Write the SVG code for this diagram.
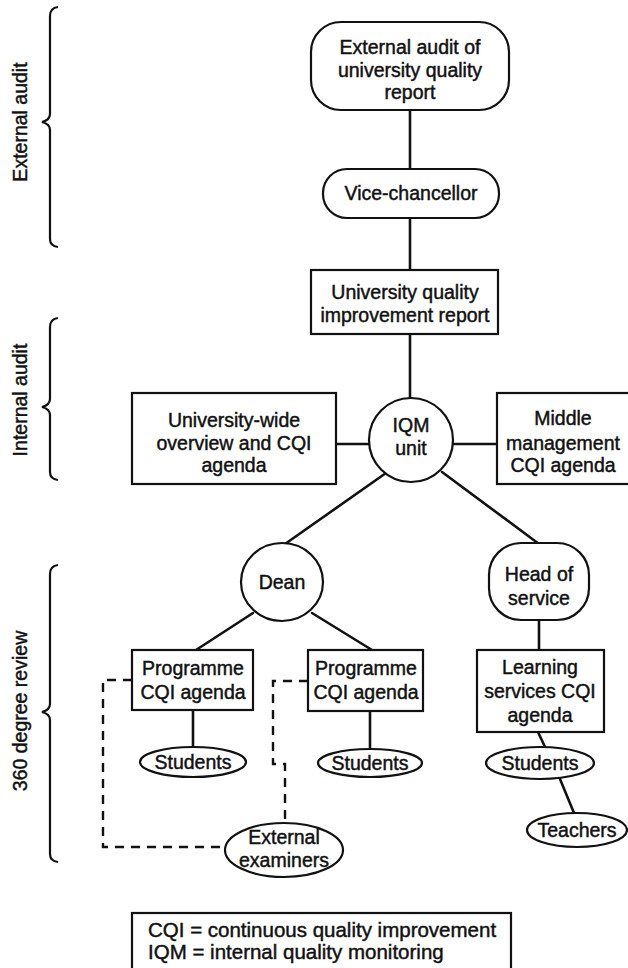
<svg xmlns="http://www.w3.org/2000/svg" width="628" height="968" viewBox="0 0 628 968">
<style>
  .bg { fill: #ffffff; }
  .node { fill: #ffffff; stroke: #111111; stroke-width: 2.2; }
  .edge { stroke: #111111; stroke-width: 2.6; fill: none; stroke-linecap: round; }
  .dash { stroke: #111111; stroke-width: 2.4; fill: none; stroke-dasharray: 9 7; }
  .brace { stroke: #111111; stroke-width: 2.2; fill: none; }
  text { font-family: "Liberation Sans", Arial, Helvetica, sans-serif; font-size: 19.5px; fill: #111111; stroke: #111111; stroke-width: 0.45; }
  .c { text-anchor: middle; }
  .lg { font-size: 20.5px; }
</style>
<rect class="bg" x="0" y="0" width="628" height="968"/>

<g id="braces">
  <path class="brace" d="M58,7 Q50,8 50,16 V114 Q50,120 42,122 Q50,124 50,130 V239 Q50,246 58,247"/>
  <text class="c" transform="translate(27,122) rotate(-90)">External audit</text>
  <path class="brace" d="M58,318 Q50,319 50,327 V399 Q50,405 42,407 Q50,409 50,415 V472 Q50,479 58,480"/>
  <text class="c" transform="translate(27,400) rotate(-90)">Internal audit</text>
  <path class="brace" d="M58,565 Q50,566 50,574 V704 Q50,710 42,712 Q50,714 50,720 V854 Q50,861 58,862"/>
  <text class="c" transform="translate(27,711) rotate(-90)">360 degree review</text>
</g>

<g id="connectors">
  <line class="edge" x1="410" y1="110" x2="410" y2="169"/>
  <line class="edge" x1="410" y1="218" x2="410" y2="270"/>
  <line class="edge" x1="410" y1="334" x2="410" y2="398"/>
  <line class="edge" x1="336" y1="444" x2="370" y2="444"/>
  <line class="edge" x1="453" y1="444" x2="497" y2="444"/>
  <line class="edge" x1="386" y1="473" x2="285" y2="544"/>
  <line class="edge" x1="442" y1="472" x2="539" y2="544"/>
  <line class="edge" x1="253" y1="613" x2="196" y2="650"/>
  <line class="edge" x1="312" y1="613" x2="372" y2="650"/>
  <line class="edge" x1="539" y1="620" x2="539" y2="650"/>
  <line class="edge" x1="193" y1="710" x2="193" y2="747"/>
  <line class="edge" x1="370" y1="711" x2="370" y2="749"/>
  <line class="edge" x1="538" y1="732" x2="545" y2="747"/>
  <line class="edge" x1="560" y1="779" x2="574" y2="813"/>
  <path class="dash" d="M132,680 H103 V847 H225"/>
  <path class="dash" d="M308,681 H273 V764 H285 V822"/>
</g>

<g id="n-external-audit">
  <rect class="node" x="311" y="22" width="198" height="88" rx="30" ry="30"/>
  <text class="c" x="410" y="54">External audit of</text>
  <text class="c" x="410" y="77">university quality</text>
  <text class="c" x="410" y="99">report</text>
</g>

<g id="n-vice-chancellor">
  <rect class="node" x="323" y="169" width="176" height="49" rx="24" ry="24"/>
  <text class="c" x="411" y="200">Vice-chancellor</text>
</g>

<g id="n-uqi-report">
  <rect class="node" x="311" y="270" width="187" height="64"/>
  <text class="c" x="405" y="299">University quality</text>
  <text class="c" x="405" y="322">improvement report</text>
</g>

<g id="n-iqm">
  <ellipse class="node" cx="411" cy="440" rx="42" ry="42"/>
  <text class="c" x="411" y="432">IQM</text>
  <text class="c" x="411" y="455">unit</text>
</g>

<g id="n-university-wide">
  <rect class="node" x="132" y="393" width="204" height="91"/>
  <text class="c" x="234" y="427">University-wide</text>
  <text class="c" x="234" y="450">overview and CQI</text>
  <text class="c" x="234" y="472">agenda</text>
</g>

<g id="n-middle-management">
  <rect class="node" x="497" y="393" width="140" height="91"/>
  <text class="c" x="563" y="425">Middle</text>
  <text class="c" x="563" y="450">management</text>
  <text class="c" x="563" y="472">CQI agenda</text>
</g>

<g id="n-dean">
  <ellipse class="node" cx="282" cy="582" rx="41" ry="39"/>
  <text class="c" x="282" y="589">Dean</text>
</g>

<g id="n-head-of-service">
  <rect class="node" x="489" y="543" width="100" height="77" rx="32" ry="32"/>
  <text class="c" x="539" y="581">Head of</text>
  <text class="c" x="539" y="605">service</text>
</g>

<g id="n-programme-1">
  <rect class="node" x="132" y="650" width="121" height="60"/>
  <text class="c" x="193" y="675">Programme</text>
  <text class="c" x="193" y="699">CQI agenda</text>
</g>

<g id="n-programme-2">
  <rect class="node" x="308" y="650" width="115" height="61"/>
  <text class="c" x="366" y="675">Programme</text>
  <text class="c" x="366" y="699">CQI agenda</text>
</g>

<g id="n-learning-services">
  <rect class="node" x="477" y="650" width="127" height="82"/>
  <text class="c" x="540" y="674">Learning</text>
  <text class="c" x="540" y="698">services CQI</text>
  <text class="c" x="540" y="722">agenda</text>
</g>

<g id="n-students-1">
  <ellipse class="node" cx="193" cy="762" rx="53" ry="15"/>
  <text class="c" x="193" y="769">Students</text>
</g>

<g id="n-students-2">
  <ellipse class="node" cx="370" cy="763" rx="52" ry="14"/>
  <text class="c" x="370" y="770">Students</text>
</g>

<g id="n-students-3">
  <ellipse class="node" cx="540" cy="763" rx="54" ry="16"/>
  <text class="c" x="540" y="770">Students</text>
</g>

<g id="n-teachers">
  <ellipse class="node" cx="577" cy="830" rx="50" ry="17"/>
  <text class="c" x="577" y="837">Teachers</text>
</g>

<g id="n-external-examiners">
  <ellipse class="node" cx="284" cy="850" rx="59" ry="27"/>
  <text class="c" x="284" y="844">External</text>
  <text class="c" x="284" y="867">examiners</text>
</g>

<g id="legend">
  <rect class="node" x="132" y="913" width="379" height="70"/>
  <text class="lg" x="148" y="937">CQI = continuous quality improvement</text>
  <text class="lg" x="148" y="959">IQM = internal quality monitoring</text>
</g>
</svg>
